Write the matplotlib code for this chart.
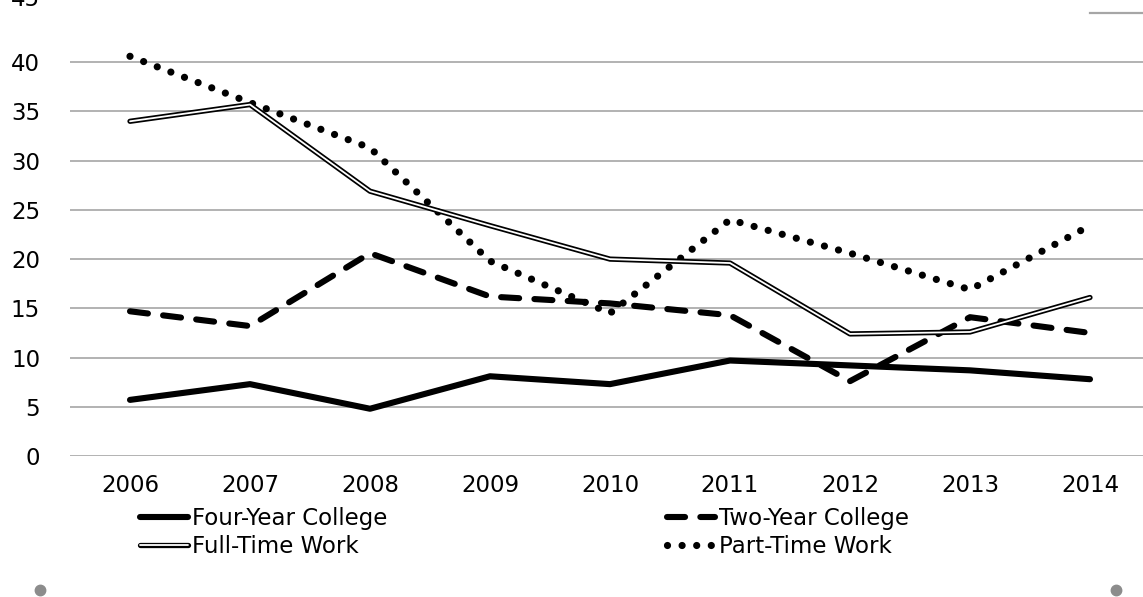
#!/usr/bin/env python3

import matplotlib
matplotlib.use("Agg")
import matplotlib.pyplot as plt
import matplotlib.patheffects as pe
from matplotlib.lines import Line2D

plt.rcParams['font.family'] = ['DejaVu Sans']
plt.rcParams['lines.scale_dashes'] = False

years = ['2006', '2007', '2008', '2009', '2010', '2011', '2012', '2013', '2014']
four_year = [5.7, 7.3, 4.8, 8.1, 7.3, 9.7, 9.2, 8.7, 7.8]
two_year = [14.7, 13.2, 20.6, 16.2, 15.5, 14.3, 7.6, 14.1, 12.5]
full_time = [34.0, 35.7, 26.9, 23.4, 20.0, 19.6, 12.4, 12.6, 16.1]
part_time = [40.6, 35.9, 31.3, 19.8, 14.5, 24.0, 20.6, 16.9, 23.4]

W, H = 1143, 597
fs = 16.5
fig = plt.figure(figsize=(W / 100, H / 100), dpi=100)

# plot area runs past the right edge (the source image is cropped)
left, right, bottom, top = 70, 1150, 456, 13
ax = fig.add_axes([left / W, (H - bottom) / H, (right - left) / W, (bottom - top) / H])

x = list(range(len(years)))

l_four, = ax.plot(x, four_year, color='black', lw=4.4, solid_capstyle='round', zorder=3)
l_two, = ax.plot(x, two_year, color='black', lw=4.4, dashes=(13, 11),
                 dash_capstyle='round', zorder=3)
l_full, = ax.plot(x, full_time, color='white', lw=1.3, solid_capstyle='round', zorder=4,
                  path_effects=[pe.Stroke(linewidth=3.8, foreground='black'), pe.Normal()])
l_part, = ax.plot(x, part_time, color='black', lw=5.2, dashes=(0.01, 10.5),
                  dash_capstyle='round', zorder=3)

ax.set_xlim(-0.5, len(years) - 0.5)
ax.set_ylim(0, 45)
ax.set_xticks(x)
ax.set_xticklabels(years)
ax.set_yticks(range(0, 45, 5))
ax.tick_params(axis='both', length=0, labelsize=fs)
ax.tick_params(axis='x', pad=13)
ax.tick_params(axis='y', pad=21.5)
ax.yaxis.grid(True, color='#a6a6a6', lw=1.2)
ax.set_axisbelow(True)
for s in ax.spines.values():
    s.set_visible(False)

# top gridline only shows at the far right, its label is cut by the crop
ax.axhline(45, xmin=(1090 - left) / (right - left), color='#a6a6a6', lw=1.6, clip_on=False)
fig.text(40 / W, 1 + 1 / H, '45', ha='right', va='center', fontsize=fs)

common = dict(loc='upper left', frameon=False, fontsize=fs, handlelength=2.1,
              handletextpad=0.17, labelspacing=0.22, borderaxespad=0, borderpad=0)
leg1 = fig.legend([l_four, l_full], ['Four-Year College', 'Full-Time Work'],
                  bbox_to_anchor=(140 / W, (H - 507) / H), **common)
leg2 = fig.legend([l_two, l_part], ['Two-Year College', 'Part-Time Work'],
                  bbox_to_anchor=(667 / W, (H - 507) / H), **common)

# selection handle dots
for px in (40, 1116):
    fig.add_artist(Line2D([px / W], [(H - 590) / H], marker='o', ms=7.5, color='#8c8c8c',
                          transform=fig.transFigure))

fig.savefig('out.png', dpi=100)
